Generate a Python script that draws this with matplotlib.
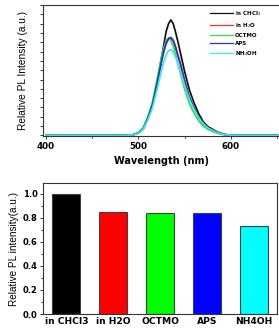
import numpy as np
import matplotlib
matplotlib.use('Agg')
import matplotlib.pyplot as plt
from matplotlib.ticker import MultipleLocator, NullFormatter

# PL spectra (a.u.)
wavelength = [400, 470, 480, 485, 490, 495, 500, 505, 510, 515, 520, 525, 527.5, 530,
              532.5, 535, 537.5, 540, 542.5, 545, 550, 555, 560, 565, 570, 575, 580,
              585, 590, 595, 600, 610, 650]
chcl3 = [0, 0, 0, 0, 0.03, 0.09, 0.27, 0.70, 1.8, 3.2, 5.6, 8.4, 9.8, 11.2,
         12.0, 12.4, 12.0, 11.1, 10.1, 9.0, 6.8, 4.9, 3.5, 2.35, 1.45, 0.95, 0.65,
         0.38, 0.20, 0.08, 0.03, 0, 0]
h2o = [0, 0, 0, 0, 0.03, 0.09, 0.27, 0.70, 1.8, 3.25, 5.55, 8.0, 9.1, 9.9,
       10.4, 10.5, 10.2, 9.5, 8.6, 7.8, 5.8, 4.1, 2.95, 1.95, 1.25, 0.82, 0.55,
       0.32, 0.17, 0.07, 0.02, 0, 0]
octmo = [0, 0, 0, 0, 0.04, 0.11, 0.32, 0.82, 2.0, 3.55, 6.0, 8.5, 9.5, 10.2,
         10.45, 10.2, 9.6, 8.7, 7.7, 6.8, 4.9, 3.4, 2.4, 1.55, 1.0, 0.65, 0.42,
         0.24, 0.12, 0.05, 0.01, 0, 0]
aps = [0, 0, 0, 0, 0.03, 0.09, 0.27, 0.70, 1.8, 3.25, 5.55, 8.0, 9.1, 9.9,
       10.4, 10.5, 10.2, 9.5, 8.6, 7.8, 5.8, 4.1, 2.95, 1.95, 1.25, 0.82, 0.55,
       0.32, 0.17, 0.07, 0.02, 0, 0]
nh4oh = [0, 0, 0, 0, 0.03, 0.08, 0.24, 0.65, 1.65, 2.9, 4.9, 7.0, 7.95, 8.65,
         9.1, 9.2, 8.95, 8.4, 7.7, 7.0, 5.3, 3.85, 2.8, 1.9, 1.25, 0.80, 0.52,
         0.30, 0.16, 0.07, 0.02, 0, 0]

spec_labels = ['in CHCl$_3$', 'in H$_2$O', 'OCTMO', 'APS', 'NH$_4$OH']
spec_colors = ['#111111', '#ee3333', '#33dd55', '#3030c0', '#40e8e8']

# relative integrated intensity, bottom panel
bar_labels = ['in CHCI3', 'in H2O', 'OCTMO', 'APS', 'NH4OH']
bar_values = [1.0, 0.85, 0.842, 0.842, 0.735]
bar_colors = ['#000000', '#ff0000', '#00ff00', '#0000ff', '#00ffff']

W, H = 279, 332


def main():
    fig = plt.figure(figsize=(W / 100, H / 100), dpi=100)
    bold = dict(family='DejaVu Sans', weight='bold')
    arial = dict(family='Liberation Sans')

    # --- top: spectra
    ax1 = fig.add_axes([43 / W, 1 - 136 / H, 238 / W, 131 / H])
    for ys, lab, c in zip([chcl3, h2o, octmo, aps, nh4oh], spec_labels, spec_colors):
        ax1.plot(wavelength, ys, '-', color=c, lw=1.25, label=lab,
                 solid_joinstyle='round')
    ax1.set_xlim(396.8, 654)
    ax1.set_ylim(-0.06, 14)
    ax1.set_xticks([400, 500, 600])
    ax1.xaxis.set_minor_locator(MultipleLocator(50))
    ax1.yaxis.set_major_locator(MultipleLocator(1))
    ax1.yaxis.set_major_formatter(NullFormatter())
    ax1.tick_params(axis='both', which='both', direction='out', width=0.7, color='#333333')
    ax1.tick_params(axis='y', length=2.5)
    ax1.tick_params(axis='x', which='major', length=2.5, pad=1.5, labelsize=6.3)
    ax1.tick_params(axis='x', which='minor', length=1.5)
    for t in ax1.get_xticklabels():
        t.set_fontfamily('DejaVu Sans')
        t.set_fontweight('bold')
    ax1.set_xlabel('Wavelength (nm)', fontsize=7, labelpad=4, **bold)
    ax1.set_ylabel('Relative PL Intensity (a.u.)', fontsize=7.3, labelpad=5, **arial)
    leg = ax1.legend(loc='upper left', bbox_to_anchor=(0.70, 0.97), frameon=False,
                     prop=dict(family='DejaVu Sans', weight='bold', size=4),
                     handlelength=4.2, handletextpad=0.4, labelspacing=0.55,
                     borderaxespad=0, borderpad=0)
    for line in leg.get_lines():
        line.set_linewidth(0.9)

    # --- bottom: bars
    ax2 = fig.add_axes([43 / W, 1 - 314 / H, 234 / W, 131 / H])
    x = np.arange(len(bar_values))
    ax2.bar(x, bar_values, width=0.6, color=bar_colors, edgecolor='#404040', lw=0.8)
    ax2.set_xlim(-0.5, 4.5)
    ax2.set_ylim(0, 1.09)
    ax2.set_xticks(x)
    ax2.set_xticklabels(bar_labels)
    ax2.yaxis.set_major_locator(MultipleLocator(0.2))
    ax2.yaxis.set_minor_locator(MultipleLocator(0.1))
    ax2.yaxis.set_major_formatter(plt.FuncFormatter(lambda v, p: '{0:.1f}'.format(v)))
    ax2.tick_params(axis='x', length=0, pad=2.5, labelsize=6.6)
    ax2.tick_params(axis='y', which='major', direction='out', length=2.5, pad=1.5,
                    labelsize=6, width=0.7, color='#333333')
    ax2.tick_params(axis='y', which='minor', direction='out', length=1.5, width=0.7,
                    color='#333333')
    for t in ax2.get_xticklabels() + ax2.get_yticklabels():
        t.set_fontfamily('DejaVu Sans')
        t.set_fontweight('bold')
    ax2.set_ylabel('Relative PL intensity(a.u.)', fontsize=7.2, labelpad=2.5, **arial)

    for ax in (ax1, ax2):
        for s in ax.spines.values():
            s.set_linewidth(0.8)
            s.set_color('#333333')

    fig.savefig('out.png', dpi=100)


if __name__ == '__main__':
    main()
